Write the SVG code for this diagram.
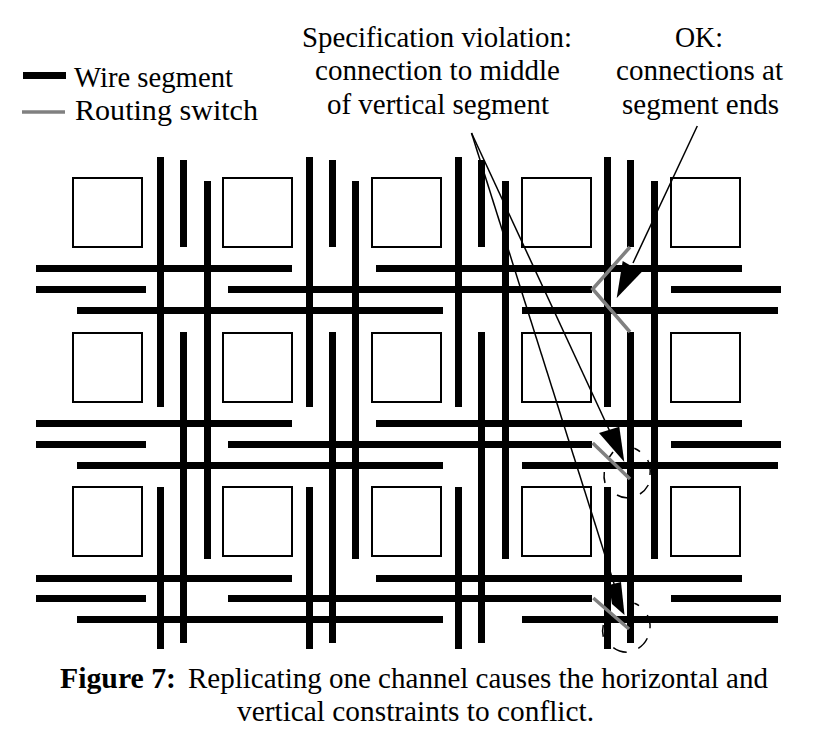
<svg xmlns="http://www.w3.org/2000/svg" width="836" height="745" viewBox="0 0 836 745">
<style>
.bg{fill:#fff}
.w{stroke:#000;stroke-width:7;fill:none}
.s{stroke:#808080;stroke-width:3.500;fill:none}
.b{fill:#fff;stroke:#000;stroke-width:2}
.l{stroke:#000;stroke-width:1.500;fill:none}
.h{fill:#000;stroke:none}
.d{stroke:#000;stroke-width:1.500;fill:none}
text{font-family:"Liberation Serif","Times New Roman",serif;font-size:29px;fill:#000}
.m{text-anchor:middle}
</style>
<rect class="bg" width="836" height="745"/>
<g id="legend">
<path class="w" d="M23 75.500H66"/>
<path class="s" d="M22 112H65"/>
<text x="74" y="87" textLength="159" lengthAdjust="spacingAndGlyphs">Wire segment</text>
<text x="75" y="120" textLength="183" lengthAdjust="spacingAndGlyphs">Routing switch</text>
</g>
<g id="labels">
<text x="302" y="47" textLength="270" lengthAdjust="spacingAndGlyphs">Specification violation:</text>
<text x="315" y="80" textLength="245" lengthAdjust="spacingAndGlyphs">connection to middle</text>
<text x="327" y="113.500" textLength="222" lengthAdjust="spacingAndGlyphs">of vertical segment</text>
<text x="675" y="47" textLength="48" lengthAdjust="spacingAndGlyphs">OK:</text>
<text x="616" y="80" textLength="167" lengthAdjust="spacingAndGlyphs">connections at</text>
<text x="622" y="113.500" textLength="157" lengthAdjust="spacingAndGlyphs">segment ends</text>
</g>
<g id="blocks">
<rect class="b" x="73" y="178" width="69" height="69"/><rect class="b" x="223" y="178" width="69" height="69"/><rect class="b" x="372" y="178" width="69" height="69"/><rect class="b" x="522" y="178" width="69" height="69"/><rect class="b" x="671" y="178" width="69" height="69"/>
<rect class="b" x="73" y="333" width="69" height="69"/><rect class="b" x="223" y="333" width="69" height="69"/><rect class="b" x="372" y="333" width="69" height="69"/><rect class="b" x="522" y="333" width="69" height="69"/><rect class="b" x="671" y="333" width="69" height="69"/>
<rect class="b" x="73" y="487" width="69" height="69"/><rect class="b" x="223" y="487" width="69" height="69"/><rect class="b" x="372" y="487" width="69" height="69"/><rect class="b" x="522" y="487" width="69" height="69"/><rect class="b" x="671" y="487" width="69" height="69"/>
</g>
<g id="connectors">
<g id="leaders">
<path class="l" d="M697.300 126L633 263"/>
<path class="l" d="M471.500 133L612 436"/>
<path class="l" d="M471.500 133L616 590"/>
<path class="l" d="M608 459L613 452"/>
</g>
<g id="wires">
<path class="w" d="M36 268.500H292M376 268.500H742M36 289.500H146M228 289.500H592M671 289.500H781M77 310.500H443M522 310.500H778"/>
<path class="w" d="M36 423.500H292M376 423.500H742M36 444.500H146M228 444.500H592M671 444.500H781M77 465.500H443M522 465.500H778"/>
<path class="w" d="M36 578.500H292M376 578.500H742M36 598.500H146M228 598.500H592M671 598.500H781M77 619.500H443M522 619.500H778"/>
<path class="w" d="M160.500 157V407M160.500 487V649M183.500 160V247M183.500 332V643M207.500 181V559"/>
<path class="w" d="M309.500 157V407M309.500 487V649M332.500 160V247M332.500 332V643M355.500 181V559"/>
<path class="w" d="M458.500 157V407M458.500 487V649M481.500 160V247M481.500 332V643M505.500 181V559"/>
<path class="w" d="M607.500 157V407M607.500 487V649M630.500 160V247M630.500 332V643M654.500 181V559"/>
</g>
<g id="arrowheads">
<path class="h" d="M616.700 298L622.700 261L641.700 272Z"/>
<path class="h" d="M624.300 462L599 433L619.300 426.700Z"/>
<path class="h" d="M624.500 615L612 604L609 585L621 582Z"/>
</g>
<g id="switches">
<path class="s" d="M630 247L592.700 289L630 332"/>
<path class="s" d="M592.700 443L630 479"/>
<path class="s" d="M593.300 598L629 629"/>
</g>
<path class="d" d="M634.300 448.300A23 25 0 0 1 640 451.700M647.700 460A23 25 0 0 1 650 475M648.300 485A23 25 0 0 1 640 494M628 498A23 25 0 0 1 617 495M605 483A23 25 0 0 1 604.300 472"/>
<path class="d" d="M634.300 603.300A23.500 24 0 0 1 639 605.700M647.300 615A23.500 24 0 0 1 650 628.300M647.300 638.300A23.500 24 0 0 1 638.300 648.300M626.700 652.300A23.500 24 0 0 1 613.300 647.700M603.300 636.700A23.500 24 0 0 1 603.300 625"/>
</g>
<g id="caption">
<text y="688"><tspan x="60" font-weight="bold" textLength="116" lengthAdjust="spacingAndGlyphs">Figure 7:</tspan> <tspan x="188" textLength="580" lengthAdjust="spacingAndGlyphs">Replicating one channel causes the horizontal and</tspan></text>
<text x="237" y="721" textLength="357" lengthAdjust="spacingAndGlyphs">vertical constraints to conflict.</text>
</g>
</svg>
